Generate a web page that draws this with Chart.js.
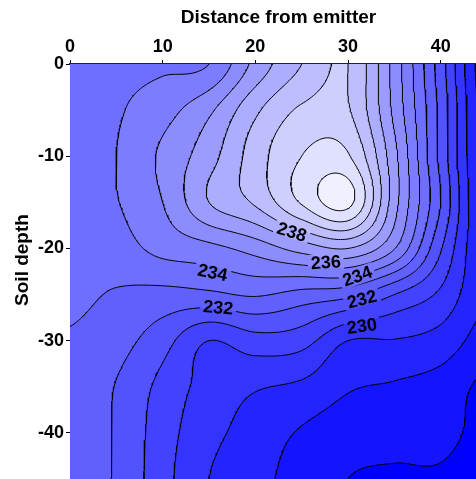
<!DOCTYPE html>
<html><head><meta charset="utf-8">
<script src="https://cdn.jsdelivr.net/npm/chart.js@4.4.1/dist/chart.umd.min.js"></script>
<style>html,body{margin:0;padding:0;overflow:hidden;background:#fff}canvas{display:block}</style>
</head><body>
<canvas id="c" width="487" height="479" style="width:487px;height:479px"></canvas>
<script>
// grid nodes (distance, depth)
const xNodes = [0, 5, 10, 15, 20, 25, 30, 35, 40, 45];
const yNodes = [0, -5, -10, -15, -20, -25, -30, -35, -40, -45];
// values, one row per depth
const depth0   = [233.6, 233.75, 233.85, 234.0, 236.3, 238.0, 239.0, 235.6, 231.45, 227.2];
const depth5   = [233.6, 233.9, 234.6, 235.8, 237.8, 239.15, 239.1, 235.75, 231.7, 227.4];
const depth10  = [233.6, 234.0, 235.2, 236.6, 238.5, 240.0, 240.1, 236.3, 231.7, 227.5];
const depth15  = [233.55, 233.95, 235.0, 237.0, 238.15, 240.1, 241.3, 236.4, 232.0, 227.6];
const depth20  = [233.45, 233.6, 234.3, 234.7, 235.4, 236.4, 237.0, 235.05, 231.1, 227.8];
const depth25  = [233.25, 232.9, 232.7, 232.8, 233.1, 232.65, 232.3, 231.0, 229.8, 228.0];
const depth30  = [232.9, 232.4, 231.4, 230.0, 230.6, 230.4, 229.0, 228.95, 228.6, 227.5];
const depth35  = [232.7, 231.95, 230.7, 229.6, 229.1, 228.8, 228.1, 227.9, 227.6, 226.75];
const depth40  = [232.6, 231.9, 230.45, 229.3, 228.6, 227.9, 227.5, 227.4, 227.35, 226.6];
const depth45  = [232.55, 231.88, 230.35, 229.0, 228.3, 227.6, 227.0, 226.85, 226.85, 226.3];

const levels = [227, 228, 229, 230, 231, 232, 233, 234, 235, 236, 237, 238, 239, 240, 241];
const bandColors = ['#0000ff','#1414ff','#2424ff','#3434ff','#4343ff','#5252ff','#6060ff','#6e6eff',
                    '#7c7cff','#8c8cff','#9c9cff','#adadff','#bebeff','#cfcfff','#e0e0ff','#f0f0ff'];
const xTicks = [0, 10, 20, 30, 40];
const yTicks = [0, -10, -20, -30, -40];
const labelText  = ['238', '236', '234', '232', '230', '234', '232'];
const labelX     = [23.95, 27.6, 31.0, 31.5, 31.5, 15.4, 16.0];
const labelY     = [-18.2, -21.5, -23.0, -25.5, -28.4, -22.6, -26.4];
const labelAngle = [18, -4, -20, -15, -8, 12, 5];

const grid = [depth0, depth5, depth10, depth15, depth20, depth25, depth30, depth35, depth40, depth45];
const xStep = xNodes[1] - xNodes[0], yStep = yNodes[0] - yNodes[1];
const nC = xNodes.length, nR = yNodes.length;

function nodeVal(r, c) {
  r = Math.max(0, Math.min(nR - 1, r)); c = Math.max(0, Math.min(nC - 1, c));
  return grid[r][c];
}
function cr(p0, p1, p2, p3, t) {
  return p1 + 0.5 * t * (p2 - p0 + t * (2 * p0 - 5 * p1 + 4 * p2 - p3 + t * (3 * (p1 - p2) + p3 - p0)));
}
function field(x, y) {
  const cx = (x - xNodes[0]) / xStep, cy = (yNodes[0] - y) / yStep;
  let i = Math.max(0, Math.min(nC - 2, Math.floor(cx)));
  let j = Math.max(0, Math.min(nR - 2, Math.floor(cy)));
  const tx = Math.max(0, Math.min(1, cx - i)), ty = Math.max(0, Math.min(1, cy - j));
  const r = [];
  for (let k = -1; k <= 2; k++) {
    r.push(cr(nodeVal(j + k, i - 1), nodeVal(j + k, i), nodeVal(j + k, i + 1), nodeVal(j + k, i + 2), tx));
  }
  return cr(r[0], r[1], r[2], r[3], ty);
}

// contour lines by marching squares on a fine sampling of the field
const h = 0.2;
const NX = Math.round((xNodes[nC - 1] - xNodes[0]) / h) + 1;
const NY = Math.round((yNodes[0] - yNodes[nR - 1]) / h) + 1;
const F = [];
for (let j = 0; j < NY; j++) {
  const row = new Float64Array(NX);
  for (let i = 0; i < NX; i++) row[i] = field(xNodes[0] + i * h, yNodes[0] - j * h);
  F.push(row);
}
function contour(L) {
  const segs = [];
  const P = (i, j) => ({ x: xNodes[0] + i * h, y: yNodes[0] - j * h });
  const lerp = (a, b, va, vb) => { const t = (L - va) / (vb - va); return { x: a.x + t * (b.x - a.x), y: a.y + t * (b.y - a.y) }; };
  for (let j = 0; j < NY - 1; j++) for (let i = 0; i < NX - 1; i++) {
    const v00 = F[j][i], v10 = F[j][i + 1], v01 = F[j + 1][i], v11 = F[j + 1][i + 1];
    const pts = [];
    if ((v00 >= L) !== (v10 >= L)) pts.push(['h' + i + '_' + j, lerp(P(i, j), P(i + 1, j), v00, v10)]);
    if ((v10 >= L) !== (v11 >= L)) pts.push(['v' + (i + 1) + '_' + j, lerp(P(i + 1, j), P(i + 1, j + 1), v10, v11)]);
    if ((v01 >= L) !== (v11 >= L)) pts.push(['h' + i + '_' + (j + 1), lerp(P(i, j + 1), P(i + 1, j + 1), v01, v11)]);
    if ((v00 >= L) !== (v01 >= L)) pts.push(['v' + i + '_' + j, lerp(P(i, j), P(i, j + 1), v00, v01)]);
    if (pts.length === 2) segs.push([pts[0], pts[1]]);
    else if (pts.length === 4) { segs.push([pts[0], pts[3]]); segs.push([pts[1], pts[2]]); }
  }
  const byKey = new Map();
  segs.forEach((s, k) => { for (const e of s) { if (!byKey.has(e[0])) byKey.set(e[0], []); byKey.get(e[0]).push(k); } });
  const used = new Uint8Array(segs.length);
  const lines = [];
  const extend = (line, key, front) => {
    for (;;) {
      const cand = (byKey.get(key) || []).find(k => !used[k]);
      if (cand === undefined) return;
      used[cand] = 1;
      const s = segs[cand];
      const other = s[0][0] === key ? s[1] : s[0];
      if (front) line.unshift(other[1]); else line.push(other[1]);
      key = other[0];
    }
  };
  segs.forEach((s, k) => {
    if (used[k]) return;
    used[k] = 1;
    const line = [s[0][1], s[1][1]];
    extend(line, s[1][0], false);
    extend(line, s[0][0], true);
    lines.push(line);
  });
  return lines;
}
const datasets = levels.map(L => {
  const data = [];
  for (const line of contour(L)) { for (const p of line) data.push(p); data.push({ x: line[0].x, y: null }); }
  return { label: String(L), data, showLine: true, pointRadius: 0, borderColor: '#000', borderWidth: 1, fill: false, tension: 0, spanGaps: false };
});

function hexRGB(c) { return [parseInt(c.slice(1, 3), 16), parseInt(c.slice(3, 5), 16), parseInt(c.slice(5, 7), 16)]; }
const bandRGB = bandColors.map(hexRGB);
const FONT = '"Liberation Sans", Arial, sans-serif';
const LABEL_FONT = 'bold 18px ' + FONT;

function labelBoxes(chart) {
  const { x, y } = chart.scales;
  const ctx = chart.ctx;
  ctx.font = LABEL_FONT;
  return labelText.map((t, k) => {
    const w = ctx.measureText(t).width + 6, hh = 17;
    return { t, cx: x.getPixelForValue(labelX[k]), cy: y.getPixelForValue(labelY[k]), a: labelAngle[k] * Math.PI / 180, w, hh };
  });
}

const fieldPlugin = {
  id: 'field',
  beforeDatasetsDraw(chart) {
    const { ctx, chartArea: a, scales: { x, y } } = chart;
    const L0 = Math.round(a.left), T0 = Math.round(a.top);
    const w = Math.round(a.right) - L0, hgt = Math.round(a.bottom) - T0;
    const img = ctx.createImageData(w, hgt);
    for (let py = 0; py < hgt; py++) {
      const yv = y.getValueForPixel(T0 + py + 0.5);
      for (let px = 0; px < w; px++) {
        const v = field(x.getValueForPixel(L0 + px + 0.5), yv);
        let b = 0; while (b < levels.length && v >= levels[b]) b++;
        const c = bandRGB[b], o = (py * w + px) * 4;
        img.data[o] = c[0]; img.data[o + 1] = c[1]; img.data[o + 2] = c[2]; img.data[o + 3] = 255;
      }
    }
    ctx.putImageData(img, L0, T0);
    ctx.save();
    ctx.beginPath();
    ctx.rect(a.left, a.top, a.right - a.left, a.bottom - a.top);
    for (const b of labelBoxes(chart)) {
      const cs = Math.cos(b.a), sn = Math.sin(b.a);
      const corners = [[-b.w / 2, -b.hh / 2], [b.w / 2, -b.hh / 2], [b.w / 2, b.hh / 2], [-b.w / 2, b.hh / 2]];
      corners.forEach((p, k) => {
        const X = b.cx + p[0] * cs - p[1] * sn, Y = b.cy + p[0] * sn + p[1] * cs;
        if (k === 0) ctx.moveTo(X, Y); else ctx.lineTo(X, Y);
      });
      ctx.closePath();
    }
    ctx.clip('evenodd');
  },
  afterDatasetsDraw(chart) {
    const ctx = chart.ctx;
    ctx.restore();
    ctx.save();
    ctx.fillStyle = '#000';
    ctx.font = LABEL_FONT;
    ctx.textAlign = 'center'; ctx.textBaseline = 'middle';
    for (const b of labelBoxes(chart)) {
      ctx.save(); ctx.translate(b.cx, b.cy); ctx.rotate(b.a); ctx.fillText(b.t, 0, 1); ctx.restore();
    }
    ctx.restore();
  },
  afterDraw(chart) {
    const ctx = chart.ctx;
    ctx.save();
    ctx.fillStyle = '#000';
    ctx.font = 'bold 19px ' + FONT;
    ctx.textAlign = 'center'; ctx.textBaseline = 'middle';
    ctx.translate(22.5, 260); ctx.rotate(-Math.PI / 2);
    ctx.fillText('Soil depth', 0, 0);
    ctx.restore();
  }
};

const noPad = s => { s.paddingLeft = 0; s.paddingRight = 0; s.paddingTop = 0; s.paddingBottom = 0; };

new Chart(document.getElementById('c'), {
  type: 'scatter',
  data: { datasets },
  options: {
    responsive: false, animation: false, devicePixelRatio: 1, events: [],
    layout: { padding: 0 },
    plugins: { legend: { display: false }, tooltip: { enabled: false } },
    scales: {
      x: {
        type: 'linear', position: 'top', min: xNodes[0], max: xNodes[nC - 1],
        afterBuildTicks: s => { s.ticks = xTicks.map(v => ({ value: v })); },
        afterFit: s => { s.height = 64; noPad(s); },
        grid: { display: true, drawOnChartArea: false, drawTicks: true, tickLength: 4, tickColor: '#000', tickWidth: 1 },
        border: { display: true, color: '#1c1c5c', width: 2 },
        ticks: { color: '#000', font: { family: FONT, size: 18, weight: 'bold' }, padding: 2, maxRotation: 0 },
        title: { display: true, text: 'Distance from emitter', color: '#000', font: { family: FONT, size: 19, weight: 'bold' }, padding: { top: 6, bottom: 0 } }
      },
      y: {
        type: 'linear', min: yNodes[nR - 1], max: yNodes[0],
        afterBuildTicks: s => { s.ticks = yTicks.map(v => ({ value: v })); },
        afterFit: s => { s.width = 70; noPad(s); },
        grid: { display: true, drawOnChartArea: false, drawTicks: true, tickLength: 4, tickColor: '#000', tickWidth: 1 },
        border: { display: true, color: '#000', width: 1 },
        ticks: { color: '#000', font: { family: FONT, size: 18, weight: 'bold' }, padding: 2 }
      }
    }
  },
  plugins: [fieldPlugin]
});
</script>
</body></html>
